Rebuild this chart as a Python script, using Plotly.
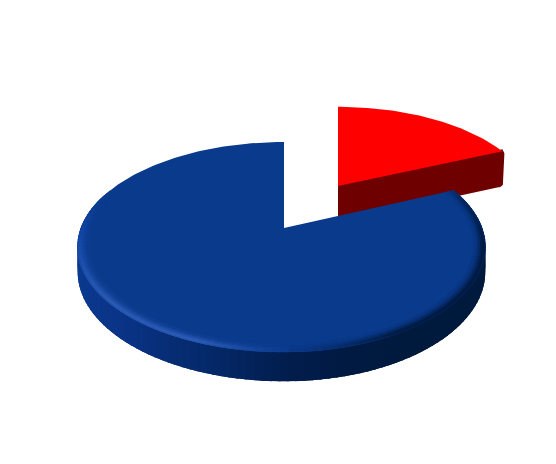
#!/usr/bin/env python3
import numpy as np
import plotly.graph_objects as go

# Shares
categories = ['Red', 'Blue']
shares = [18.5, 81.5]

RED_TOP = '#fe0000'
RED_WALL = '#6e0000'
BLUE_TOP = '#0a3a8c'

# Projection of the tilted disc (perspective factor, axis sizes)
PERSP = 0.181
BLUE = dict(cx=284, cy=228, rx_right=198, rx_left=203, ry=101.6, depth=24)
RED = dict(cx=338, cy=186, rx_right=192, rx_left=192, ry=93.5, depth=36)

# Side and rim colours by angle, clockwise from the back of the pie
SIDE_ANGLES = [60, 100, 150, 165, 180, 200, 225, 255, 300]
SIDE_COLORS = ['#001a3c', '#001a3c', '#001a3e', '#011a42', '#021e4e', '#052a6c', '#0a3488', '#0a3a90', '#0a3a90']
RIM_ANGLES = [60, 72, 100, 150, 180, 200, 232, 265, 288, 360]
RIM_COLORS = ['#0a3a8c', '#04265e', '#001a40', '#001a40', '#0c3c90', '#2c5cb8', '#2a5ab4',
              '#1448a8', '#0a3a8c', '#0a3a8c']


def project(p, angle_deg, radius=1.0, drop=0.0):
    a = np.radians(angle_deg)
    xx = radius * np.sin(a)
    yy = radius * np.cos(a)
    s = 1 / (1 + PERSP * yy)
    rx = np.where(xx >= 0, p['rx_right'], p['rx_left'])
    return p['cx'] + rx * xx * s, p['cy'] - p['ry'] * yy * s + drop * s


def to_rgb(color):
    return np.array([int(color[i:i + 2], 16) for i in (1, 3, 5)], dtype=float)


def ramp(angle, angles, colors):
    rgb = [np.interp(angle, angles, [to_rgb(c)[i] for c in colors]) for i in range(3)]
    return rgb


def css(rgb):
    return 'rgb(%d,%d,%d)' % tuple(int(round(v)) for v in rgb)


def mix(c1, c2, t):
    return [c1[i] + (c2[i] - c1[i]) * t for i in range(3)]


fig = go.Figure()


def add_poly(xs, ys, color):
    fig.add_trace(go.Scatter(x=list(xs), y=list(ys), mode='lines', fill='toself', fillcolor=color,
                             line=dict(color=color, width=0), hoverinfo='skip', showlegend=False))


red_end = shares[0] * 3.6

# Red slice, pulled out: front wall first, then the top
ex, ey = project(RED, red_end)
ex, ey = float(ex), float(ey)
corner = np.radians(np.linspace(0, 90, 8))
wall_x = [RED['cx'], ex, ex + 2] + list(ex + 1 - 5 * (1 - np.cos(corner))) + [RED['cx']]
wall_y = [RED['cy'] - 2, ey - 2, ey + 2] + list(ey + 31 + 5 * np.sin(corner)) + [RED['cy'] + RED['depth']]
add_poly(wall_x, wall_y, RED_WALL)
arc = np.linspace(0, red_end, 60)
ax, ay = project(RED, arc)
add_poly([RED['cx']] + list(ax), [RED['cy']] + list(ay), RED_TOP)

# Blue slice: side strip, then rim bands, then the flat top
steps = np.linspace(red_end, 360, 150)
overlap = 2.5
side_steps = [a for a in steps if a <= 292]
for a0, a1 in zip(side_steps[:-1], side_steps[1:]):
    run = np.linspace(a0, a1 + overlap, 6)
    x0, y0 = project(BLUE, run)
    x1, y1 = project(BLUE, run[::-1], drop=BLUE['depth'])
    add_poly(list(x0) + list(x1), list(y0) + list(y1), css(ramp((a0 + a1) / 2, SIDE_ANGLES, SIDE_COLORS)))

top_arc = np.linspace(red_end, 360, 240)
tx, ty = project(BLUE, top_arc)
add_poly([BLUE['cx']] + list(tx), [BLUE['cy']] + list(ty), BLUE_TOP)

rings = [1.0, 0.991, 0.982, 0.973, 0.964, 0.955, 0.946]
weights = [0.8, 1.0, 0.78, 0.52, 0.3, 0.12]
base = to_rgb(BLUE_TOP)
for k, w in enumerate(weights):
    for a0, a1 in zip(steps[:-1], steps[1:]):
        mid = (a0 + a1) / 2
        edge = ramp(mid, RIM_ANGLES, RIM_COLORS)
        if max(abs(edge[i] - base[i]) for i in range(3)) < 2:
            continue
        run = np.linspace(a0, min(a1 + overlap, 360), 5)
        x0, y0 = project(BLUE, run, rings[k] + 0.002)
        x1, y1 = project(BLUE, run[::-1], rings[k + 1] - 0.002)
        add_poly(list(x0) + list(x1), list(y0) + list(y1), css(mix(base, edge, w)))

fig.update_xaxes(visible=False, range=[0, 556], domain=[0, 1], fixedrange=True)
fig.update_yaxes(visible=False, range=[464, 0], domain=[0, 1], fixedrange=True)
fig.update_layout(width=556, height=464, margin=dict(l=0, r=0, t=0, b=0),
                  paper_bgcolor='white', plot_bgcolor='white', showlegend=False)

fig.write_html("out.html", config=dict(displayModeBar=False),
               post_script="document.body.style.margin='0';")
